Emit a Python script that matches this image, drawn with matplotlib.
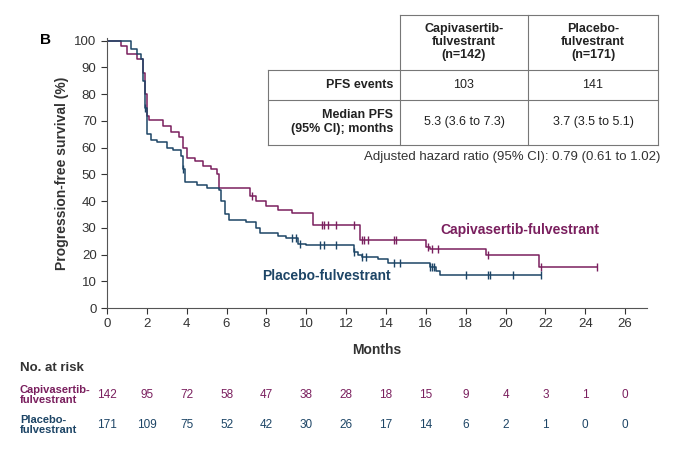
import matplotlib
matplotlib.use('Agg')
import matplotlib.pyplot as plt
import matplotlib.transforms as mtrans

#### DATA ##########
cap_t = [0, 0.7, 1.0, 1.5, 1.8, 1.9, 2.0, 2.1, 2.8, 3.2, 3.6, 3.8, 4.0, 4.4, 4.8, 5.2, 5.5, 5.6,
         7.2, 7.5, 8.0, 8.6, 9.3, 10.35, 12.7, 16.0, 16.2, 19.0, 21.7, 24.6]
cap_s = [100, 98, 95, 93, 88, 80, 72, 70.5, 68, 66, 64, 60, 56, 55, 53, 52, 50, 45,
         42, 40, 38, 36.5, 35.5, 31, 25.5, 23, 22, 20, 15.5, 15.5]
cap_cens_t = [7.3, 10.8, 10.9, 11.1, 11.5, 12.4, 12.8, 12.9, 13.1, 14.4, 14.5, 16.1, 16.3, 16.6, 19.1, 21.8, 24.6]

pla_t = [0, 1.0, 1.2, 1.5, 1.7, 1.8, 1.9, 2.0, 2.2, 2.5, 3.0, 3.3, 3.7, 3.8, 3.9, 4.5, 5.0, 5.6, 5.7, 5.9,
         6.1, 7.0, 7.5, 7.7, 8.6, 9.0, 9.6, 10.0, 12.4, 12.6, 12.8, 13.6, 14.1, 16.2, 16.5, 16.7, 21.8]
pla_s = [100, 100, 97, 95, 93, 85, 75, 65, 63, 62, 60, 59, 57, 52, 47, 46, 45, 44, 40, 35,
         33, 32, 30, 28, 27, 26, 24, 23.5, 21, 20, 19, 18.5, 17, 15.5, 14, 12.5, 12.5]
pla_cens_t = [1.9, 3.8, 9.3, 9.5, 9.7, 10.7, 10.9, 11.5, 12.4, 12.8, 13.0, 14.4, 14.7,
              16.2, 16.3, 16.4, 18.0, 19.1, 19.2, 20.4, 21.8]

risk_times = list(range(0, 28, 2))
cap_risk = [142, 95, 72, 58, 47, 38, 28, 18, 15, 9, 4, 3, 1, 0]
pla_risk = [171, 109, 75, 52, 42, 30, 26, 17, 14, 6, 2, 1, 0, 0]

cap_col = '#7a1f5e'
pla_col = '#1d4566'

def surv_at(ts, ss, x):
    v = ss[0]
    for t, s in zip(ts, ss):
        if t <= x:
            v = s
    return v

##### PLOT ######
plt.rcParams['font.family'] = 'Liberation Sans'
fig = plt.figure(figsize=(6.8, 4.61), dpi=100)
ax = fig.add_axes([107/680, 1-308/461, 540/680, 270/461])

ax.step(cap_t, cap_s, where='post', color=cap_col, lw=1.1)
ax.step(pla_t, pla_s, where='post', color=pla_col, lw=1.1)
ax.plot(cap_cens_t, [surv_at(cap_t, cap_s, x) for x in cap_cens_t], ls='none',
        marker='|', ms=6, mew=1, color=cap_col)
ax.plot(pla_cens_t, [surv_at(pla_t, pla_s, x) for x in pla_cens_t], ls='none',
        marker='|', ms=6, mew=1, color=pla_col)

ax.set_xlim(0, 27.1)
ax.set_ylim(0, 101)
ax.set_xticks(range(0, 28, 2))
ax.set_yticks(range(0, 101, 10))
ax.tick_params(labelsize=9.5, colors='#333333', length=4)
for s in ['top', 'right']:
    ax.spines[s].set_visible(False)
for s in ['left', 'bottom']:
    ax.spines[s].set_color('#555555')
ax.set_ylabel('Progression-free survival (%)', fontsize=10, fontweight='bold', color='#333333')
ax.set_xlabel('Months', fontsize=10, fontweight='bold', color='#333333', labelpad=9)
fig.text(40/680, 1-40/461, 'B', fontsize=11, fontweight='bold', va='center')

ax.text(20.7, 27.5, 'Capivasertib-fulvestrant', color=cap_col, fontsize=10, fontweight='bold', ha='center')
ax.text(11, 10.5, 'Placebo-fulvestrant', color=pla_col, fontsize=10, fontweight='bold', ha='center')

# summary table (figure pixel coords)
def px(x, y):
    return x/680, 1-y/461
lc = '#777777'
for (x0, y0, x1, y1) in [(400, 15, 658, 15), (268, 70, 658, 70), (268, 100, 658, 100), (268, 145, 658, 145),
                         (268, 70, 268, 145), (400, 15, 400, 145), (528, 15, 528, 145), (658, 15, 658, 145)]:
    fig.add_artist(plt.Line2D([x0/680, x1/680], [1-y0/461, 1-y1/461], color=lc, lw=0.8))
tk = dict(fontsize=9, ha='center', va='center', color='#222222')
fig.text(*px(464, 42), 'Capivasertib-\nfulvestrant\n(n=142)', fontweight='bold', linespacing=1.1, **tk)
fig.text(*px(593, 42), 'Placebo-\nfulvestrant\n(n=171)', fontweight='bold', linespacing=1.1, **tk)
fig.text(*px(393, 85), 'PFS events', fontweight='bold', **dict(tk, ha='right'))
fig.text(*px(393, 122), 'Median PFS\n(95% CI); months', fontweight='bold', linespacing=1.2, **dict(tk, ha='right'))
fig.text(*px(464, 85), '103', **tk)
fig.text(*px(593, 85), '141', **tk)
fig.text(*px(464, 122), '5.3 (3.6 to 7.3)', **tk)
fig.text(*px(593, 122), '3.7 (3.5 to 5.1)', **tk)
fig.text(*px(660, 157), 'Adjusted hazard ratio (95% CI): 0.79 (0.61 to 1.02)', fontsize=9.5,
         ha='right', va='center', color='#333333')

# number at risk
tr = mtrans.blended_transform_factory(ax.transData, fig.transFigure)
fig.text(*px(20, 368), 'No. at risk', fontsize=9.5, fontweight='bold', va='center', color='#333333')
fig.text(*px(20, 395), 'Capivasertib-\nfulvestrant', fontsize=8, fontweight='bold', va='center',
         color=cap_col, linespacing=1.0)
fig.text(*px(20, 425), 'Placebo-\nfulvestrant', fontsize=8, fontweight='bold', va='center',
         color=pla_col, linespacing=1.0)
for t, c, p in zip(risk_times, cap_risk, pla_risk):
    ax.text(t, 1-395/461, str(c), transform=tr, fontsize=8.5, ha='center', va='center', color=cap_col, clip_on=False)
    ax.text(t, 1-425/461, str(p), transform=tr, fontsize=8.5, ha='center', va='center', color=pla_col, clip_on=False)

plt.savefig('out.png', dpi=100)
